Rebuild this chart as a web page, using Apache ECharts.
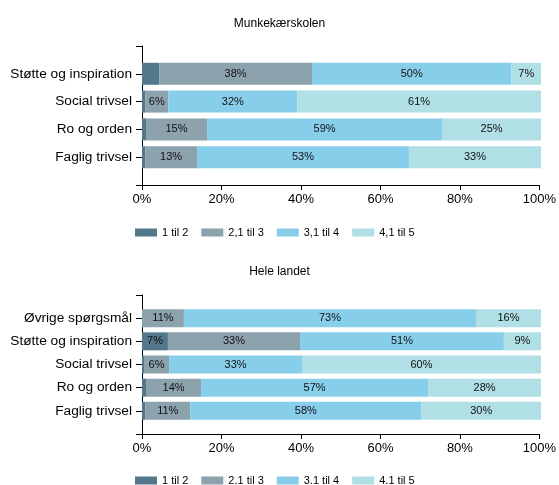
<!DOCTYPE html>
<html><head><meta charset="utf-8">
<script src="https://cdn.jsdelivr.net/npm/echarts@6/dist/echarts.min.js"></script>
<style>html,body{margin:0;padding:0;background:#fff}#c{width:559px;height:485px}</style>
</head><body><div id="c"></div>
<script>
// ---- data ----
const topTitle = 'Munkekærskolen';
const botTitle = 'Hele landet';
const topCats = ['Støtte og inspiration', 'Social trivsel', 'Ro og orden', 'Faglig trivsel'];
const topNames = ['1 til 2', '2,1 til 3', '3,1 til 4', '4,1 til 5'];
const top1 = [4.3, 0.8, 1.0, 0.8];
const top2 = [38.3, 5.8, 15.3, 13.0];
const top3 = [50.0, 32.3, 58.9, 53.1];
const top4 = [7.4, 61.1, 24.8, 33.1];

const botCats = ['Øvrige spørgsmål', 'Støtte og inspiration', 'Social trivsel', 'Ro og orden', 'Faglig trivsel'];
const botNames = ['1 til 2', '2.1 til 3', '3.1 til 4', '4.1 til 5'];
const bot1 = [0.0, 6.5, 0.5, 1.0, 0.8];
const bot2 = [10.5, 33.1, 6.3, 13.8, 11.3];
const bot3 = [73.2, 51.1, 33.3, 56.9, 57.9];
const bot4 = [16.3, 9.3, 59.9, 28.3, 30.0];

const xTicks = {min: 0, max: 100, interval: 20};

// ---- style ----
const colors = ['#53788C', '#8CA2AD', '#87CEEB', '#B0DFE5'];
const FF = '"Liberation Sans", Arial, sans-serif';

const chart = echarts.init(document.getElementById('c'), null, {renderer: 'canvas'});

function frameX(gi) {
  return {type: 'value', gridIndex: gi, min: xTicks.min, max: xTicks.max, interval: xTicks.interval,
    axisLine: {show: true, lineStyle: {color: '#000', width: 1}},
    axisTick: {show: true, length: 5, lineStyle: {color: '#000'}},
    axisLabel: {formatter: '{value}%', fontSize: 13, color: '#000', fontFamily: FF, margin: 8},
    splitLine: {show: false}};
}
function frameY(gi) {
  return {type: 'value', gridIndex: gi, min: 0, max: 1, interval: 1,
    axisLine: {show: true, lineStyle: {color: '#000', width: 1}},
    axisTick: {show: true, length: 6, lineStyle: {color: '#000'}},
    axisLabel: {show: false}, splitLine: {show: false}};
}
function dataX(gi) {
  return {type: 'value', gridIndex: gi, min: xTicks.min, max: xTicks.max, show: false, splitLine: {show: false}};
}
function dataY(gi, cats) {
  return {type: 'category', gridIndex: gi, data: cats, inverse: true,
    axisLine: {show: false},
    axisTick: {show: true, length: 6, alignWithLabel: true, interval: 0, lineStyle: {color: '#000'}},
    axisLabel: {fontSize: 13.7, color: '#000', fontFamily: FF, margin: 10, interval: 0}};
}
function mkSeries(names, arrs, stack, axi, bw) {
  return arrs.map((d, i) => ({
    name: names[i], type: 'bar', stack: stack, xAxisIndex: axi, yAxisIndex: axi,
    data: d, barWidth: bw, itemStyle: {color: colors[i]},
    emphasis: {disabled: true},
    label: {show: true, position: 'inside', color: '#111', fontSize: 11, fontFamily: FF,
      formatter: p => p.value >= 5 ? Math.round(p.value) + '%' : ''}
  }));
}

const legendBase = {left: 135, padding: 0, itemGap: 13, itemWidth: 22, itemHeight: 8, icon: 'rect',
  textStyle: {fontSize: 11, color: '#000', fontFamily: FF}, selectedMode: false};

chart.setOption({
  animation: false,
  backgroundColor: '#fff',
  title: [
    {text: topTitle, left: 'center', top: 13, textStyle: {fontSize: 12, fontWeight: 'normal', color: '#000', fontFamily: FF}},
    {text: botTitle, left: 'center', top: 261, textStyle: {fontSize: 12, fontWeight: 'normal', color: '#000', fontFamily: FF}}
  ],
  legend: [
    Object.assign({}, legendBase, {top: 227, data: topNames}),
    Object.assign({}, legendBase, {top: 475, data: botNames})
  ],
  grid: [
    {left: 142, right: 18, top: 46, height: 139},
    {left: 142, right: 18, top: 59.9, height: 111.2},
    {left: 142, right: 18, top: 295, height: 139},
    {left: 142, right: 18, top: 306.6, height: 115.8}
  ],
  xAxis: [frameX(0), dataX(1), frameX(2), dataX(3)],
  yAxis: [frameY(0), dataY(1, topCats), frameY(2), dataY(3, botCats)],
  series: [].concat(
    mkSeries(topNames, [top1, top2, top3, top4], 'top', 1, 22),
    mkSeries(botNames, [bot1, bot2, bot3, bot4], 'bot', 3, 18)
  )
});
</script></body></html>
